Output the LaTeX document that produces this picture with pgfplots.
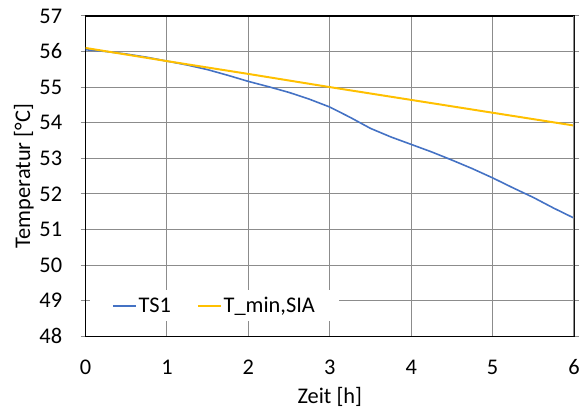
\documentclass[border=0pt]{standalone}
\usepackage{fontspec}
\setmainfont{Carlito}
\usepackage{pgfplots}
\pgfplotsset{compat=1.18}
\definecolor{xblue}{HTML}{4472C4}
\definecolor{xyellow}{HTML}{FFC000}
\definecolor{xgrid}{HTML}{8C8C8C}
\begin{document}
\begin{tikzpicture}[font=\fontsize{22.5bp}{27bp}\selectfont]
\begin{axis}[
  scale only axis,
  width=491bp, height=322bp,
  xmin=0, xmax=6, ymin=48, ymax=57,
  xtick={0,1,2,3,4,5,6},
  ytick={48,49,50,51,52,53,54,55,56,57},
  /pgf/number format/assume math mode=true,
  grid=major,
  major grid style={xgrid, line width=1bp},
  axis line style={black, line width=1.2bp},
  x tick style={draw=none},
  y tick style={xgrid, line width=1bp},
  tick align=outside,
  major tick length=5bp,
  xticklabel style={yshift=-15bp},
  yticklabel style={xshift=-15bp},
  xlabel={Zeit [h]},
  ylabel={Temperatur [°C]},
  every axis x label/.style={at={(axis description cs:0.5,0)}, anchor=center, yshift=-61bp},
  every axis y label/.style={at={(axis description cs:0,0.5)}, anchor=center, rotate=90, yshift=62bp},
  legend columns=2,
  legend style={at={(axis description cs:0.264,0.095)}, anchor=center, draw=none, fill=white,
    inner xsep=22bp, inner ysep=5bp, /tikz/every even column/.append style={column sep=24bp}},
  legend cell align=left,
  legend image code/.code={\draw[#1] (0bp,0bp) -- (23bp,0bp);},
]
\addplot[xblue, line width=1.6bp] coordinates {
(0,56.05) (0.25,56.00) (0.5,55.93) (0.75,55.84) (1,55.73) (1.25,55.62) (1.5,55.49) (1.75,55.33)
(2,55.16) (2.25,55.01) (2.5,54.85) (2.75,54.66) (3,54.44) (3.25,54.15) (3.5,53.84) (3.75,53.60)
(4,53.39) (4.25,53.18) (4.5,52.95) (4.75,52.71) (5,52.45) (5.25,52.17) (5.5,51.90) (5.75,51.60) (6,51.32)};
\addlegendentry{TS1}
\addplot[xyellow, line width=2bp] coordinates {
(0,56.10) (1,55.73) (2,55.37) (3,55.00) (4,54.64) (5,54.28) (6,53.92)};
\addlegendentry{T\_min,SIA}
\draw[xgrid, line width=1.2bp] (rel axis cs:1,0) -- (rel axis cs:1,1);
\coordinate (sw) at (rel axis cs:0,0);
\coordinate (ne) at (rel axis cs:1,1);
\end{axis}
\path ([xshift=-86bp,yshift=-74bp]sw) rectangle ([xshift=6bp,yshift=16bp]ne);
\end{tikzpicture}
\end{document}
